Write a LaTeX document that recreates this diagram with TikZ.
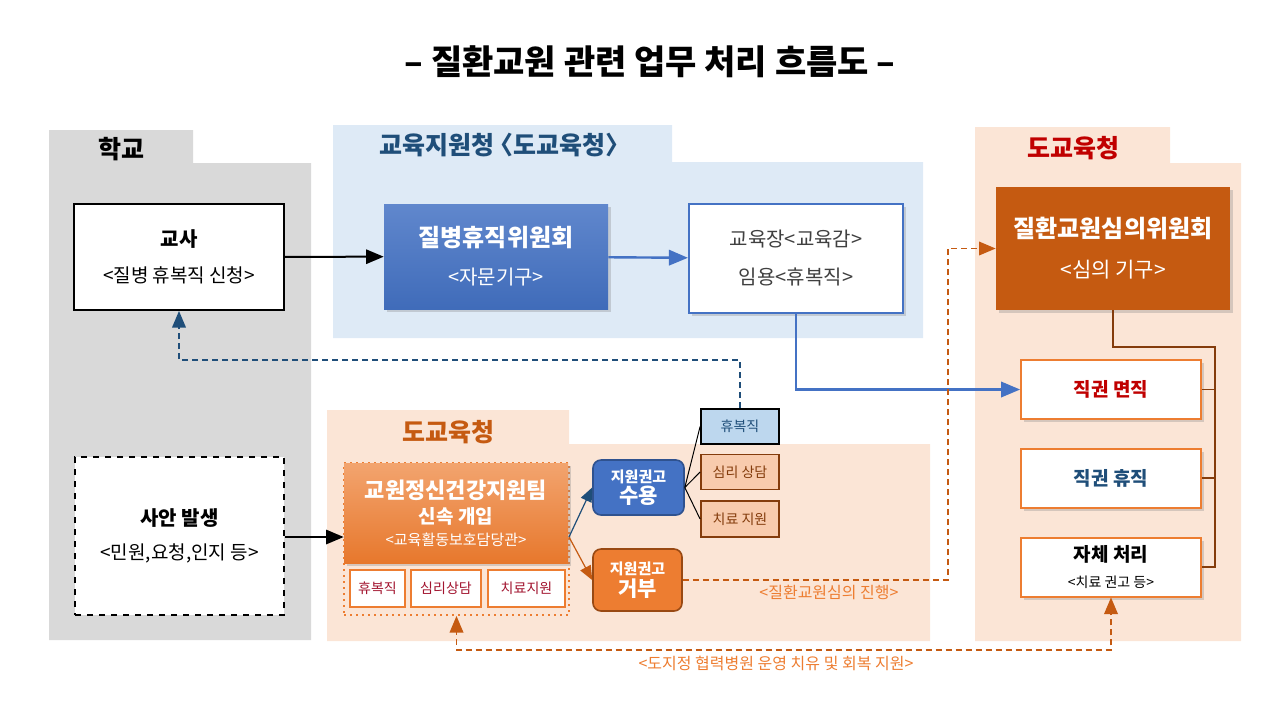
\documentclass[tikz,border=0pt]{standalone}
\usepackage{fontspec}
\setmainfont{Noto Sans CJK KR}
\usepackage{tikz}
\usetikzlibrary{positioning, calc, arrows, shadows}

\definecolor{schoolgray}{HTML}{D9D9D9}
\definecolor{officeblue}{HTML}{DEEAF6}
\definecolor{peach}{HTML}{FBE5D6}
\definecolor{lightpeach}{HTML}{F8CBAD}
\definecolor{navy}{HTML}{1F4E79}
\definecolor{midblue}{HTML}{4472C4}
\definecolor{deepblue}{HTML}{2F528F}
\definecolor{midorange}{HTML}{ED7D31}
\definecolor{rust}{HTML}{C55A11}
\definecolor{darkbrown}{HTML}{843C0C}
\definecolor{crimson}{HTML}{C00000}
\definecolor{wine}{HTML}{A2142F}
\definecolor{paleblue}{HTML}{BDD7EE}
\definecolor{slate}{HTML}{404040}

\newcommand{\fsz}[1]{\fontsize{#1}{1.2\dimexpr #1pt\relax}\selectfont}

\begin{document}
\begin{tikzpicture}[x=0.5pt, y=-0.5pt, >=triangle 45,
    every node/.style={align=center, inner sep=0pt, font=\fsz{10}},
    hd/.style={font=\fsz{12.5}\bfseries},
    shadowed/.style={drop shadow={opacity=0.3, shadow xshift=1.5pt, shadow yshift=-1.5pt}},
    rbox/.style={draw=midorange, fill=white, line width=1pt, minimum width=90pt, minimum height=29.5pt, shadowed},
    sub/.style={draw=midorange, fill=white, line width=0.9pt, minimum height=18.5pt, text=wine, font=\fsz{7}},
    opt/.style={draw=darkbrown, fill=lightpeach, line width=0.9pt, minimum width=39pt, minimum height=17.5pt, text=darkbrown, font=\fsz{7}},
    choice/.style={rounded corners=4pt, line width=0.8pt, text=white, font=\fsz{7.5}\bfseries},
    dashline/.style={dashed, dash pattern=on 3pt off 2pt, line width=0.9pt},
]
\useasboundingbox (0,0) rectangle (1280,720);

\fill[schoolgray] (49,130) -- (193,130) -- (193,163) -- (311,163) -- (311,640) -- (49,640) -- cycle;
\fill[officeblue] (333,125) -- (672,125) -- (672,162) -- (923,162) -- (923,338) -- (333,338) -- cycle;
\fill[peach] (975,127) -- (1170,127) -- (1170,163) -- (1241,163) -- (1241,641) -- (975,641) -- cycle;
\fill[peach] (327,410) -- (569,410) -- (569,444) -- (930,444) -- (930,641) -- (327,641) -- cycle;

\node[font=\fsz{17}\bfseries] (title) at (650,62) {– 질환교원 관련 업무 처리 흐름도 –};
\node[hd] (schoolhd) at (121,149) {학교};
\node[hd, text=navy] (officehd) at (502,145) {교육지원청\kern-3pt〈도교육청〉\kern-3pt};
\node[hd, text=crimson] (provhd) at (1073,148) {도교육청};
\node[hd, text=rust] (provhdb) at (448,432) {도교육청};

\node[draw, fill=white, line width=1pt, minimum width=105pt, minimum height=53pt] (teacher) at (179,257)
    {{\fsz{10}\bfseries 교사}\\[6pt]{\fsz{9.5}<질병 휴복직 신청>}};
\node[top color=midblue!85!white, bottom color=midblue!80!deepblue, minimum width=112pt, minimum height=52.5pt, text=white, shadowed] (sick) at (496,256.5)
    {{\fsz{12}\bfseries 질병휴직위원회}\\[7pt]{\fsz{10}<자문기구>}};
\node[draw=midblue, fill=white, line width=1.2pt, minimum width=107pt, minimum height=54.5pt, text=slate, shadowed] (chief) at (796,258.5)
    {교육장<교육감>\\[7pt]임용<휴복직>};
\node[fill=rust, minimum width=117pt, minimum height=61.5pt, text=white, shadowed] (review) at (1113,248.5)
    {{\fsz{12}\bfseries 질환교원심의위원회}\\[8pt]{\fsz{10.5}<심의 기구>}};

\node[rbox, text=crimson, font=\fsz{9.5}\bfseries] (dismiss) at (1111,389.5) {직권 면직};
\node[rbox, text=navy, font=\fsz{9.5}\bfseries] (leave) at (1111,478) {직권 휴직};
\node[rbox] (self) at (1111,567) {{\fsz{9.5}\bfseries 자체 처리}\\[1pt]{\fsz{7}<치료 권고 등>}};

\node[draw, dashed, fill=white, line width=1pt, minimum width=104.5pt, minimum height=79pt] (incident) at (179.5,536)
    {{\fsz{10}\bfseries 사안 발생}\\[5pt]{\fsz{9.5}<민원,요청,인지 등>}};

\node[draw=midorange, dotted, line width=1pt, minimum width=112.5pt, minimum height=76pt] (teamframe) at (456.5,539) {};
\node[top color=midorange!70!white, bottom color=midorange!85!rust, minimum width=112pt, minimum height=50pt, text=white, shadowed] (team) at (456,513)
    {{\fsz{11}\bfseries 교원정신건강지원팀}\\[0.5pt]{\fsz{9.5}\bfseries 신속 개입}\\[-1pt]{\fsz{7.5}<교육활동보호담당관>}};
\node[sub, minimum width=27.5pt] (subleave) at (377.5,588.5) {휴복직};
\node[sub, minimum width=35pt] (subcare) at (446,588.5) {심리상담};
\node[sub, minimum width=38.5pt] (subcure) at (526.5,588.5) {치료지원};

\node[choice, draw=deepblue, fill=midblue, minimum width=45.5pt, minimum height=27.5pt] (accept) at (638.5,487.5)
    {지원권고\\[0pt]{\fsz{10.5}\bfseries 수용}};
\node[choice, draw=darkbrown!80!midorange, fill=midorange, minimum width=44.5pt, minimum height=31pt] (reject) at (637.5,580)
    {지원권고\\[0.5pt]{\fsz{10.5}\bfseries 거부}};

\node[opt, draw=black, fill=paleblue, text=navy] (optleave) at (740,426.5) {휴복직};
\node[opt] (optcare) at (740,472) {심리 상담};
\node[opt, minimum height=18pt] (optcure) at (740,519) {치료 지원};

\coordinate (split) at (569,537);
\coordinate (retbend) at (179,360);
\coordinate (rjbend) at (948,580);
\coordinate (hosp) at (1111,650);
\coordinate (brk) at (1215,347);

\draw[->, line width=1pt] (teacher) -- (sick);
\draw[->, midblue, line width=1.2pt] (sick) -- (chief);
\draw[->, midblue, line width=1.2pt] (chief.south) |- (dismiss.west);
\draw[->, navy, dashline] (optleave.north) |- (retbend) -- (teacher.south);
\draw[->, line width=1pt] (incident.east |- split) -- (team.west |- split);
\draw[->, navy, line width=0.6pt] (split) -- (accept.west);
\draw[->, rust, line width=0.6pt] (split) -- (reject.west);
\draw[line width=0.5pt] (accept.east) -- (optleave.west);
\draw[line width=0.5pt] (accept.east) -- (optcare.west);
\draw[line width=0.5pt] (accept.east) -- (optcure.west);
\draw[->, rust, dashline] (reject.east) -- (rjbend) |- (review.west);
\node[text=midorange, font=\fsz{8}] (reviewlbl) at (829,592) {<질환교원심의 진행>};
\draw[<->, rust, dashline] (teamframe.south) |- (hosp) -- (self.south);
\node[text=midorange, font=\fsz{8}] (hosplbl) at (776,663) {<도지정 협력병원 운영 치유 및 회복 지원>};
\draw[darkbrown, line width=0.6pt] (review.south) |- (brk) |- (self.east);
\draw[darkbrown, line width=0.6pt] (dismiss.east) -- (dismiss.east -| brk);
\draw[darkbrown, line width=0.6pt] (leave.east) -- (leave.east -| brk);
\end{tikzpicture}
\end{document}
